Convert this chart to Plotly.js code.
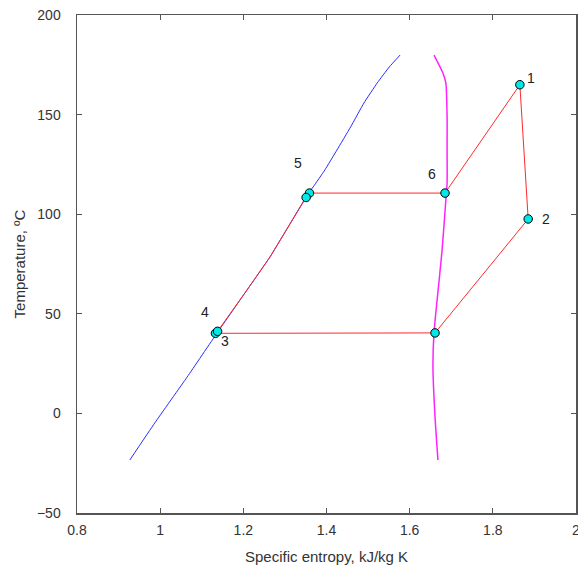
<!DOCTYPE html>
<html>
<head>
<meta charset="utf-8">
<script src="https://cdn.plot.ly/plotly-3.0.1.min.js"></script>
<style>html,body{margin:0;padding:0;background:#fff;}#chart{width:578px;height:575px;}</style>
</head>
<body>
<div id="chart"></div>
<script>
// Saturated liquid line (blue)
var liqS = [0.927, 0.987, 1.065, 1.137, 1.209, 1.264, 1.355, 1.368, 1.396, 1.425, 1.458, 1.490, 1.522, 1.551, 1.577];
var liqT = [-23.4, -4.8, 18.3, 40.4, 62.0, 78.5, 110.0, 113.7, 122.2, 132.2, 143.8, 155.8, 165.9, 173.9, 179.9];
// Saturated vapour line (magenta)
var vapS = [1.6585, 1.680, 1.687, 1.690, 1.690, 1.690, 1.687, 1.678, 1.666, 1.6585, 1.656, 1.661, 1.668];
var vapT = [179.9, 170.9, 165.9, 148.8, 132.2, 115.7, 107.1, 82.0, 56.9, 40.4, 23.3, -1.8, -23.4];
// Cycle path (red)
var cycS = [1.133, 1.138, 1.209, 1.264, 1.351, 1.359, 1.685, 1.865, 1.885, 1.661, 1.133];
var cycT = [40.2, 41.2, 62.0, 78.5, 108.4, 110.6, 110.6, 165.0, 97.6, 40.4, 40.2];
// State points (markers)
var ptS = [1.865, 1.885, 1.133, 1.138, 1.359, 1.351, 1.685, 1.661];
var ptT = [165.0, 97.6, 40.2, 41.2, 110.6, 108.4, 110.6, 40.4];
// Labelled states
var labText = ['1', '2', '3', '4', '5', '6'];
var labS = [1.865, 1.885, 1.133, 1.138, 1.359, 1.685];
var labT = [165.0, 97.6, 40.2, 41.2, 110.6, 110.6];
var labDx = [11, 18, 10, -13, -11, -13];
var labDy = [7, 0, -8, 19, 30, 19];

var xTicks = [0.8, 1, 1.2, 1.4, 1.6, 1.8, 2];
var xTickText = ['0.8', '1', '1.2', '1.4', '1.6', '1.8', '2'];
var yTicks = [-50, 0, 50, 100, 150, 200];

var traces = [
  {x: liqS, y: liqT, mode: 'lines', line: {color: '#2a2aff', width: 1, shape: 'spline', smoothing: 0.4}, hoverinfo: 'skip'},
  {x: vapS, y: vapT, mode: 'lines', line: {color: '#ff22ff', width: 1.5, shape: 'spline', smoothing: 0.6}, hoverinfo: 'skip'},
  {x: cycS, y: cycT, mode: 'lines', line: {color: '#ff2a2a', width: 1}, hoverinfo: 'skip'},
  {x: ptS, y: ptT, mode: 'markers', marker: {color: '#00e8e8', size: 8.5, line: {color: '#000', width: 1}}, hoverinfo: 'skip'}
];

var annotations = labText.map(function(t, i) {
  return {x: labS[i], y: labT[i], text: t, showarrow: false, xshift: labDx[i], yshift: labDy[i],
          font: {family: 'Liberation Sans, Arial, sans-serif', size: 14, color: '#222'}};
});

var axisFont = {family: 'Liberation Sans, Arial, sans-serif', size: 14, color: '#333'};

var layout = {
  width: 578, height: 575,
  margin: {l: 77, r: 2, t: 15, b: 62, pad: 0},
  paper_bgcolor: '#fff', plot_bgcolor: '#fff',
  showlegend: false,
  xaxis: {
    range: [0.8, 2], tickvals: xTicks, ticktext: xTickText,
    ticks: 'inside', ticklen: 5, tickcolor: '#555', mirror: 'ticks',
    showline: true, linecolor: '#555', linewidth: 1.5,
    showgrid: false, zeroline: false, tickfont: axisFont, ticklabelstandoff: 4,
    ticklabeloverflow: 'allow',
    title: {text: 'Specific entropy, kJ/kg K', font: {family: 'Liberation Sans, Arial, sans-serif', size: 15, color: '#333'}, standoff: 14}
  },
  yaxis: {
    range: [-50, 200], tickvals: yTicks,
    ticks: 'inside', ticklen: 5, tickcolor: '#555', mirror: 'ticks',
    showline: true, linecolor: '#555', linewidth: 1.5,
    showgrid: false, zeroline: false, tickfont: axisFont, ticklabelstandoff: 12,
    ticklabeloverflow: 'allow',
    title: {text: 'Temperature, ºC', font: {family: 'Liberation Sans, Arial, sans-serif', size: 15, color: '#333'}, standoff: 7}
  },
  annotations: annotations
};

Plotly.newPlot('chart', traces, layout, {displayModeBar: false, staticPlot: true});
</script>
</body>
</html>
